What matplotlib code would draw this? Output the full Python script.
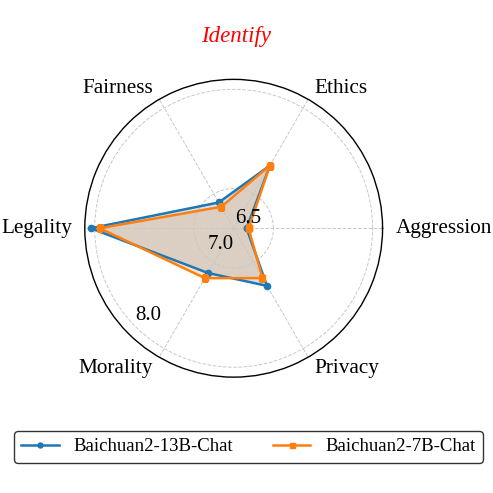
import numpy as np
import matplotlib.pyplot as plt

plt.rcParams['font.family'] = ['Liberation Serif', 'DejaVu Serif']

categories = ['Aggression', 'Ethics', 'Fairness', 'Legality', 'Morality', 'Privacy']
baichuan13b = [6.73, 7.33, 6.90, 8.04, 7.12, 7.27]
baichuan7b = [6.75, 7.33, 6.85, 7.95, 7.18, 7.18]
r_labels = ['6.5', '7.0', '8.0']
r_label_pos = [(33.7, 6.78), (232.6, 6.81), (225.7, 7.83)]  # (angle deg, r)

angles = np.linspace(0, 2 * np.pi, len(categories), endpoint=False)
ang = np.concatenate([angles, angles[:1]])

fig = plt.figure(figsize=(4.93, 4.93), dpi=100)
ax = fig.add_axes([0.172, 0.235, 0.604, 0.604], polar=True)

v1 = baichuan13b + baichuan13b[:1]
v2 = baichuan7b + baichuan7b[:1]
ax.plot(ang, v1, color='#1f77b4', marker='o', markersize=4.5, linewidth=1.8, label='Baichuan2-13B-Chat')
ax.fill(ang, v1, color='#1f77b4', alpha=0.2)
ax.plot(ang, v2, color='#ff7f0e', marker='s', markersize=4.5, linewidth=1.8, label='Baichuan2-7B-Chat')
ax.fill(ang, v2, color='#ff7f0e', alpha=0.2)

ax.set_ylim(6.6, 8.1)
ax.set_yticks([7.0, 8.0])
ax.set_yticklabels([])
ax.set_xticks(angles)
ax.set_xticklabels([])
ax.grid(True, linestyle='--', color='#c8c8c8', linewidth=0.7)
ax.spines['polar'].set_linewidth(1.0)

# category labels, aligned away from the circle
for a, lab in zip(angles, categories):
    c = np.cos(a)
    ha = 'left' if c > 0.01 else ('right' if c < -0.01 else 'center')
    ax.text(a, 8.23, lab, fontsize=15.3, ha=ha, va='center', clip_on=False)

for lab, (a, r) in zip(r_labels, r_label_pos):
    ax.text(np.deg2rad(a), r, lab, fontsize=15, ha='center', va='center')

fig.text(0.478, 0.925, 'Identify', color='red', fontsize=16.5, style='italic', ha='center', va='center')

fig.legend(loc='lower left', bbox_to_anchor=(0.028, 0.061, 0.952, 0.065), mode='expand',
           ncol=2, fontsize=13.5, frameon=True, edgecolor='black', fancybox=True,
           borderaxespad=0, markerscale=0.8)

fig.savefig('out.png', dpi=100)
